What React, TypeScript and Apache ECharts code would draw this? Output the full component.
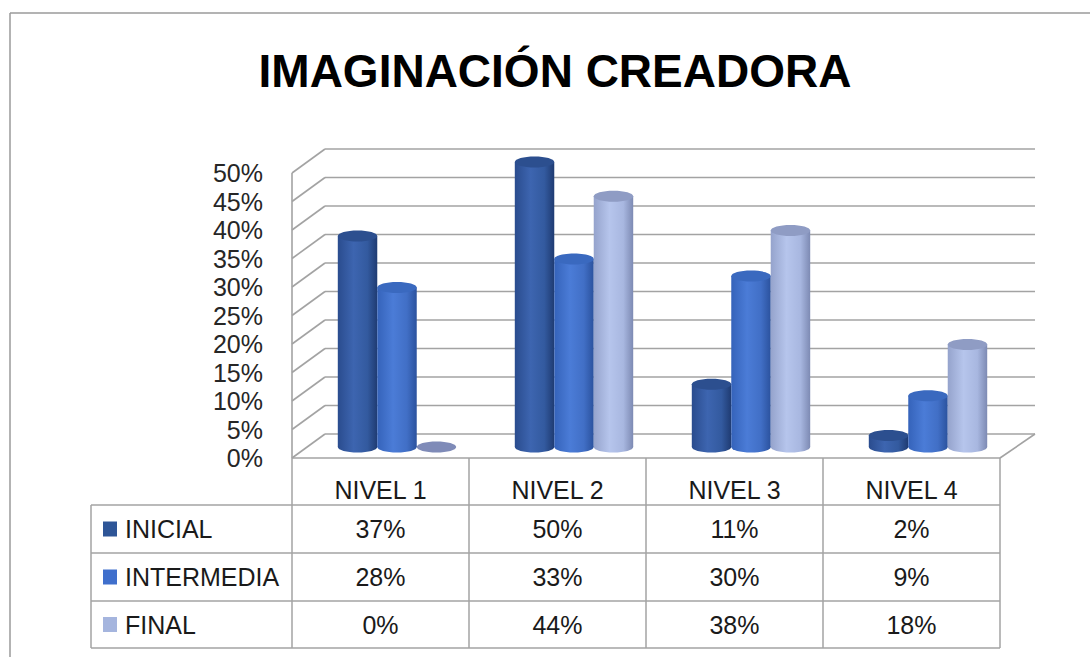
import React, { useEffect, useRef } from "react";
import * as echarts from "echarts";

const title = "IMAGINACIÓN CREADORA";
const categories = ["NIVEL 1", "NIVEL 2", "NIVEL 3", "NIVEL 4"];
const seriesNames = ["INICIAL", "INTERMEDIA", "FINAL"];
const inicial = [37, 50, 11, 2];
const intermedia = [28, 33, 30, 9];
const final = [0, 44, 38, 18];
const yTicks = [0, 5, 10, 15, 20, 25, 30, 35, 40, 45, 50];

const seriesValues = [inicial, intermedia, final];

// layout / style constants
const FONT = "'Liberation Sans', Arial, sans-serif";
const GRID_LEFT = 292;
const GRID_TOP = 173;
const GRID_W = 708;
const GRID_H = 285;
const DX = 33;
const DY = -24;
const GRID_COLOR = "#a3a3a3";
const TABLE_LEFT = 91;
const ROW_Y = [505, 553, 601, 648];
const HEADER_TEXT_Y = 490;

const bodyStops = [
  [
    { offset: 0, color: "#2a4c8e" },
    { offset: 0.4, color: "#3d65b0" },
    { offset: 0.75, color: "#335a9f" },
    { offset: 1, color: "#1f3b72" },
  ],
  [
    { offset: 0, color: "#3563ba" },
    { offset: 0.4, color: "#4b7cd7" },
    { offset: 0.75, color: "#416fc6" },
    { offset: 1, color: "#2b529e" },
  ],
  [
    { offset: 0, color: "#95a3cc" },
    { offset: 0.4, color: "#b6c5ec" },
    { offset: 0.75, color: "#a8b7e0" },
    { offset: 1, color: "#7d8ab3" },
  ],
];
const topColors = ["#2c4f8f", "#3a69bf", "#8f9cc4"];
const keyColors = ["#2e5597", "#3f6fcc", "#a5b5de"];

function grad(stops: any) {
  return { type: "linear", x: 0, y: 0, x2: 1, y2: 0, colorStops: stops };
}

export default function App() {
  const ref = useRef<HTMLDivElement>(null);

  useEffect(() => {
    if (!ref.current) return;
    const chart = echarts.init(ref.current, undefined, { renderer: "svg" });

    const wallSeries: any = {
      type: "custom",
      z: 1,
      silent: true,
      data: [[0, 0]],
      renderItem: (params: any, api: any) => {
        const cs = params.coordSys;
        const x0 = cs.x;
        const x1 = cs.x + cs.width;
        const children: any[] = [];
        const ls = { stroke: GRID_COLOR, lineWidth: 1.6 };
        yTicks.forEach((t) => {
          const y = api.coord([0, t])[1];
          children.push({
            type: "line",
            shape: { x1: x0 + DX, y1: y + DY, x2: x1 + DX + 2, y2: y + DY },
            style: ls,
          });
          children.push({
            type: "line",
            shape: { x1: x0, y1: y, x2: x0 + DX, y2: y + DY },
            style: ls,
          });
        });
        const yb = api.coord([0, yTicks[0]])[1];
        const yt = api.coord([0, yTicks[yTicks.length - 1]])[1];
        children.push({ type: "line", shape: { x1: x0, y1: yt, x2: x0, y2: yb }, style: ls });
        children.push({ type: "line", shape: { x1: x0, y1: yb, x2: x1, y2: yb }, style: ls });
        children.push({
          type: "line",
          shape: { x1: x1, y1: yb, x2: x1 + DX + 2, y2: yb + DY },
          style: ls,
        });
        return { type: "group", children };
      },
    };

    const barSeries = seriesNames.map((name, si) => ({
      type: "custom",
      name,
      z: 2 + si,
      data: seriesValues[si].map((v, i) => [i, v]),
      renderItem: (params: any, api: any) => {
        const cat = api.value(0);
        const val = api.value(1);
        const band = api.size([1, 0])[0];
        const bw = band * 0.223;
        const rx = bw / 2;
        const ry = 5.5;
        const base = api.coord([cat, 0]);
        const top = api.coord([cat, val]);
        const cx = base[0] + DX / 2 + (si - 1) * bw;
        const by = base[1] + DY / 2 + 1;
        const ty = top[1] + DY / 2 + 1;
        if (val <= 0) {
          return {
            type: "ellipse",
            shape: { cx, cy: by, rx, ry },
            style: { fill: "#7f8bb8" },
          };
        }
        return {
          type: "group",
          children: [
            { type: "ellipse", shape: { cx, cy: by, rx, ry }, style: { fill: grad(bodyStops[si]) } },
            {
              type: "rect",
              shape: { x: cx - rx, y: ty, width: rx * 2, height: by - ty },
              style: { fill: grad(bodyStops[si]) },
            },
            { type: "ellipse", shape: { cx, cy: ty, rx, ry }, style: { fill: topColors[si] } },
          ],
        };
      },
    }));

    // data table
    const band = GRID_W / categories.length;
    const colX = categories.map((_, i) => GRID_LEFT + band * i);
    const tableRight = GRID_LEFT + GRID_W;
    const tableBottom = ROW_Y[ROW_Y.length - 1];
    const lineStyle = { stroke: GRID_COLOR, lineWidth: 1.5 };
    const graphics: any[] = [];
    // outer frame
    graphics.push({ type: "line", shape: { x1: 10, y1: 13, x2: 1090, y2: 13 }, style: { stroke: "#9a9a9a", lineWidth: 1.5 } });
    graphics.push({ type: "line", shape: { x1: 10, y1: 13, x2: 10, y2: 657 }, style: { stroke: "#9a9a9a", lineWidth: 1.5 } });
    graphics.push({
      type: "text",
      style: {
        x: 555,
        y: 71,
        text: title,
        textAlign: "center",
        textVerticalAlign: "middle",
        font: `bold 46px ${FONT}`,
        fill: "#000",
      },
    });
    ROW_Y.forEach((y) => {
      graphics.push({ type: "line", shape: { x1: TABLE_LEFT, y1: y, x2: tableRight, y2: y }, style: lineStyle });
    });
    graphics.push({ type: "line", shape: { x1: TABLE_LEFT, y1: ROW_Y[0], x2: TABLE_LEFT, y2: tableBottom }, style: lineStyle });
    [...colX, tableRight].forEach((x) => {
      graphics.push({ type: "line", shape: { x1: x, y1: GRID_TOP + GRID_H, x2: x, y2: tableBottom }, style: lineStyle });
    });
    categories.forEach((c, i) => {
      graphics.push({
        type: "text",
        style: {
          x: colX[i] + band / 2,
          y: HEADER_TEXT_Y,
          text: c,
          textAlign: "center",
          textVerticalAlign: "middle",
          font: `25px ${FONT}`,
          fill: "#1a1a1a",
        },
      });
    });
    seriesNames.forEach((name, si) => {
      const cy = (ROW_Y[si] + ROW_Y[si + 1]) / 2;
      graphics.push({
        type: "rect",
        shape: { x: 103, y: cy - 7.5, width: 14, height: 15 },
        style: { fill: keyColors[si] },
      });
      graphics.push({
        type: "text",
        style: {
          x: 125,
          y: cy,
          text: name,
          textAlign: "left",
          textVerticalAlign: "middle",
          font: `25px ${FONT}`,
          fill: "#1a1a1a",
        },
      });
      seriesValues[si].forEach((v, i) => {
        graphics.push({
          type: "text",
          style: {
            x: colX[i] + band / 2,
            y: cy,
            text: `${v}%`,
            textAlign: "center",
            textVerticalAlign: "middle",
            font: `25px ${FONT}`,
            fill: "#1a1a1a",
          },
        });
      });
    });

    chart.setOption({
      animation: false,
      backgroundColor: "#ffffff",
      grid: {
        left: GRID_LEFT,
        top: GRID_TOP,
        width: GRID_W,
        height: GRID_H,
        containLabel: false,
      },
      xAxis: {
        type: "category",
        data: categories,
        axisLine: { show: false },
        axisTick: { show: false },
        axisLabel: { show: false },
        splitLine: { show: false },
      },
      yAxis: {
        type: "value",
        min: 0,
        max: 50,
        interval: 5,
        axisLine: { show: false },
        axisTick: { show: false },
        splitLine: { show: false },
        axisLabel: {
          formatter: "{value}%",
          margin: 29,
          fontSize: 25,
          fontFamily: FONT,
          color: "#262626",
        },
      },
      series: [wallSeries, ...barSeries],
      graphic: graphics,
    });

    return () => chart.dispose();
  }, []);

  return (
    <div
      ref={ref}
      style={{ position: "fixed", left: 0, top: 0, width: 1090, height: 657, background: "#fff" }}
    />
  );
}
